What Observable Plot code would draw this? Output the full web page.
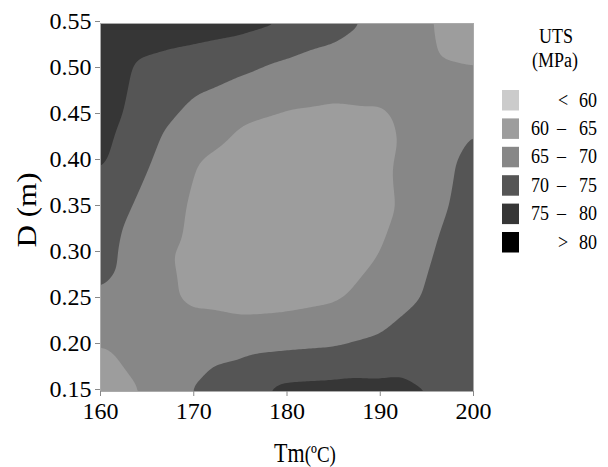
<!DOCTYPE html>
<html><head><meta charset="utf-8">
<script src="https://cdn.jsdelivr.net/npm/d3@7"></script>
<script src="https://cdn.jsdelivr.net/npm/@observablehq/plot@0.6"></script>
<style>
body{margin:0;background:#fff;}
#chart{position:relative;width:608px;height:467px;}
#chart svg, #chart svg text{font-family:"Liberation Serif", "Times New Roman", serif !important;}
</style></head><body><div id="chart"></div>
<script>
// Melt temperature (°C) columns and diameter D (m) rows of the sampled UTS field
const tmValues = [160, 165, 170, 175, 180, 185, 190, 195, 200];
const dValues = [0.55, 0.50, 0.45, 0.40, 0.35, 0.30, 0.25, 0.20, 0.15];
// UTS (MPa), one row per D value (top to bottom)
const uts055 = [79.8, 78.5, 77.5, 76.5, 75.3, 72, 69, 65.5, 62];
const uts050 = [78, 73.5, 72, 70.7, 68.5, 67.5, 66.5, 66, 65.2];
const uts045 = [77.2, 72.5, 68.5, 65.6, 64.5, 64, 64.5, 66.5, 69.3];
const uts040 = [75.8, 70.5, 65.2, 63, 62, 62, 64, 67.5, 71.5];
const uts035 = [73, 68.5, 64.3, 62.5, 61.5, 61.5, 63.5, 68, 72.3];
const uts030 = [72, 66.5, 63.8, 62.5, 62, 62.5, 65, 69.5, 73];
const uts025 = [69.5, 66.5, 64.3, 63.2, 63.5, 64.5, 67, 70.5, 73.5];
const uts020 = [64.8, 66.2, 67.5, 68.5, 69.2, 69.7, 71, 72.5, 74];
const uts015 = [63, 65.3, 70.3, 73.4, 76.5, 76.8, 76.5, 75.1, 74];
const utsRows = [uts055, uts050, uts045, uts040, uts035, uts030, uts025, uts020, uts015];

const levels = [60, 65, 70, 75, 80];
const levelColors = ["#cbcbcb", "#9d9d9d", "#878787", "#555555", "#363636", "#000000"];
const legendLabels = [["<", "60"], ["60", "65"], ["65", "70"], ["70", "75"], ["75", "80"], [">", "80"]];
const xTicks = [160, 170, 180, 190, 200];
const yTicks = [0.15, 0.20, 0.25, 0.30, 0.35, 0.40, 0.45, 0.50, 0.55];

const table = [];
dValues.forEach((d, i) => tmValues.forEach((t, j) => table.push({Tm: t, D: d, UTS: utsRows[i][j]})));

const chart = Plot.plot({
  width: 608, height: 467,
  marginLeft: 100, marginRight: 135, marginTop: 23, marginBottom: 76,
  style: {fontFamily: "Liberation Serif", fontSize: "24px", color: "#000", background: "#fff"},
  x: {domain: [160, 200]},
  y: {domain: [0.15, 0.55]},
  color: {type: "threshold", domain: levels, range: levelColors},
  marks: [
    Plot.contour(table, {x: "Tm", y: "D", fill: "UTS", interpolate: "barycentric", thresholds: levels, blur: 3, stroke: "none"}),
    Plot.frame({stroke: "#aaa"}),
    Plot.axisX({ticks: xTicks, tickSize: 5, tickPadding: 5, label: null, stroke: "#888"}),
    Plot.axisY({ticks: yTicks, tickFormat: d => d.toFixed(2), tickSize: 5, tickPadding: 4, label: null, stroke: "#888", dy: -2})
  ]
});
document.getElementById("chart").appendChild(chart);

const svg = d3.select(chart);
const serif = "'Liberation Serif', 'Times New Roman', serif";
// axis titles
const xt = svg.append("text").attr("transform", "translate(305,462) scale(1,1.25)").attr("text-anchor", "middle")
  .attr("fill", "#000");
xt.append("tspan").attr("font-size", 22).text("Tm");
xt.append("tspan").attr("font-size", 19).text("(ºC)");
svg.append("text").attr("transform", "translate(36,210) rotate(-90) scale(1.15,1)").attr("text-anchor", "middle")
  .attr("font-size", 27).attr("fill", "#000").text("D (m)");

// legend
const lg = svg.append("g").attr("font-size", 18).attr("fill", "#000");
const ltext = (x, y, anchor, s) => lg.append("text")
  .attr("transform", `translate(${x},${y}) scale(1,1.2)`).attr("text-anchor", anchor).text(s);
ltext(556, 43, "middle", "UTS");
ltext(555, 67, "middle", "(MPa)");
levelColors.forEach((c, i) => {
  const y0 = 90 + i * 28.4;
  lg.append("rect").attr("x", 502).attr("y", y0).attr("width", 17).attr("height", 20.5).attr("fill", c);
  const [a, b] = legendLabels[i];
  const by = y0 + 16.5;
  if (a === "<" || a === ">") {
    ltext(563, by, "middle", a);
  } else {
    ltext(549, by, "end", a);
    ltext(561.5, by, "middle", "–");
  }
  ltext(597, by, "end", b);
});
svg.selectAll("text").style("font-family", serif);
</script></body></html>
